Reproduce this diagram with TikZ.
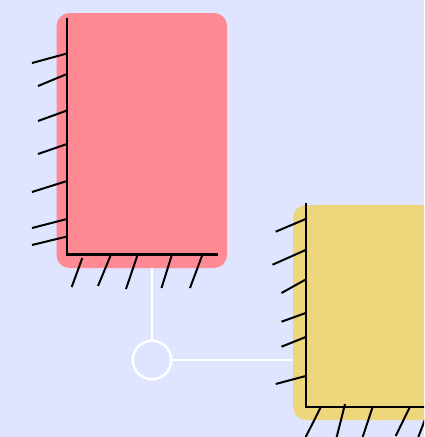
\documentclass[tikz,border=0pt]{standalone}
\definecolor{backblue}{HTML}{E0E5FF}
\definecolor{boxred}{HTML}{FF8A94}
\definecolor{boxyellow}{HTML}{EDD67C}
\tikzset{
  plate/.style={rounded corners=13pt,inner sep=0pt,outer sep=0pt},
  joint/.style={circle,draw=white,line width=2.4pt,minimum size=38.5pt,inner sep=0pt,outer sep=1.2pt},
  wire/.style={draw=white,line width=2.4pt},
  axis/.style={line width=2.2pt},
  hair/.style={line width=2pt}
}
\begin{document}
\begin{tikzpicture}[x=1pt,y=-1pt]
  \clip (0,0) rectangle (424,437);
  \fill[backblue] (0,0) rectangle (424,437);

  \node[plate,fill=boxred,minimum width=170.5pt,minimum height=255pt] (redbox) at (141.75,140.5) {};
  \node[plate,fill=boxyellow,minimum width=200pt,minimum height=215pt] (yellowbox) at (393,312.5) {};
  \node[joint] (hub) at (152,360) {};

  \draw[wire] (hub) -- (hub |- redbox.south);
  \draw[wire] (hub) -- (hub -| yellowbox.west);

  % red box
  \draw[axis] (67,18) -- (67,254.5) -- (218,254.5);
  \foreach \xa/\ya/\yb in {32/63/53.5,38/86/74,38/121/110.5,38/154/144,32/192/181,32/228/219,32/245/236.5}
    \draw[hair] (\xa,\ya) -- (67,\yb);
  \foreach \xa/\ya/\xb/\yb in {71.7/287/82.3/258,98/286/111/254.5,126/289/137.7/254.5,161.5/288/172/254.5,190/288/202.5/254.5}
    \draw[hair] (\xa,\ya) -- (\xb,\yb);

  % yellow box
  \draw[axis] (305.7,203) -- (305.7,406.7) -- (430,406.7);
  \foreach \xa/\ya/\yb in {275.7/231.7/219,272.5/264.7/250,281.5/293/279.5,281.5/321.7/313,281.5/346.7/337,275.7/384/376}
    \draw[hair] (\xa,\ya) -- (305.7,\yb);
  \foreach \xa/\ya/\xb/\yb in {305.7/437/321/406.7,336.7/437/345/404,362.7/437/372.7/406.7,395.7/436/410/406.7,418.3/437/426/417}
    \draw[hair] (\xa,\ya) -- (\xb,\yb);
\end{tikzpicture}
\end{document}
